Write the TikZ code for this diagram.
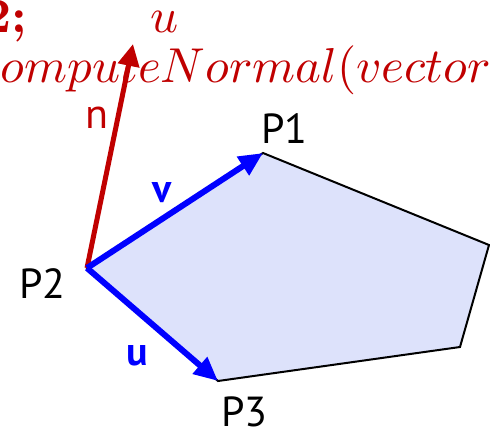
\documentclass[tikz,border=0pt]{standalone}
\usepackage{fontspec}
\setsansfont{PT Sans}
\usetikzlibrary{arrows.meta}
\definecolor{nred}{RGB}{192,0,0}
\definecolor{polyblue}{RGB}{221,226,251}
\tikzset{
  vec/.style={line width=6pt,blue,-{Triangle[length=24pt,width=21pt]}},
  normalvec/.style={line width=5pt,nred,-{Triangle[length=22pt,width=21pt]}},
  ptlabel/.style={font=\sffamily\fontsize{42}{46}\selectfont,inner sep=0pt},
  veclabel/.style={font=\sffamily\bfseries\fontsize{40}{44}\selectfont,text=blue,inner sep=0pt},
  codetext/.style={text=nred,font=\fontsize{10}{12}\selectfont,scale=4.9,inner sep=0pt}
}
\begin{document}
\begin{tikzpicture}[x=1pt,y=-1pt]
\useasboundingbox (0,0) rectangle (490,431);
\clip (0,0) rectangle (490,431);
\coordinate (P1) at (263,153);
\coordinate (P2) at (87,268);
\coordinate (P3) at (218,381);
\coordinate (R) at (489,245);
\coordinate (S) at (460,347);
\coordinate (N) at (133,44);
% code behind the picture
\node[codetext,anchor=base east] (semi) at (28,32) {\bfseries 2;};
\node[codetext,anchor=base west] (uvar) at (150,32) {$u$};
\node[codetext,anchor=base west] (call) at (0,82) {$omputeNormal(vector$};
% polygon
\filldraw[fill=polyblue,draw=black,line width=2pt,line join=miter] (P2)--(P1)--(R)--(S)--(P3)--cycle;
\draw[normalvec](P2)--(N);
\draw[vec](P2)--(P1);
\draw[vec](P2)--(P3);
% labels
\node[ptlabel,anchor=base west] (l1) at (261,143) {P1};
\node[ptlabel,anchor=base west] (l2) at (19,298) {P2};
\node[ptlabel,anchor=base west] (l3) at (221,426) {P3};
\node[ptlabel,anchor=base west,text=nred] (ln) at (85,128) {n};
\node[veclabel,anchor=base west] (lv) at (152,202) {v};
\node[veclabel,anchor=base west] (lu) at (126,365) {u};
\end{tikzpicture}
\end{document}
